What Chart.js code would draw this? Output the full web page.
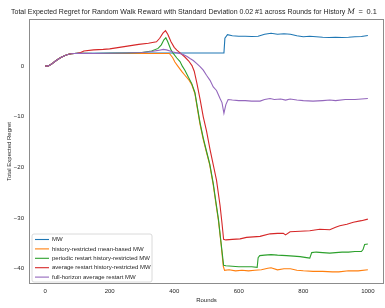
<!DOCTYPE html>
<html>
<head>
<meta charset="utf-8">
<script src="https://cdn.jsdelivr.net/npm/chart.js@4/dist/chart.umd.min.js"></script>
<style>
  html, body { margin: 0; padding: 0; background: #ffffff; overflow: hidden; }
  #wrap { position: relative; width: 385px; height: 308px; }
</style>
</head>
<body>
<div id="wrap"><canvas id="c"></canvas></div>
<script>
const titleMain = "Total Expected Regret for Random Walk Reward with Standard Deviation 0.02 #1 across Rounds for History ";
const titleVar = "M";
const titleRest = " = 0.1";
const xLabel = "Rounds";
const yLabel = "Total Expected Regret";
const xTicks = [0, 200, 400, 600, 800, 1000];
const yTicks = [-40, -30, -20, -10, 0];

const seriesNames = [
  "MW",
  "history-restricted mean-based MW",
  "periodic restart history-restricted MW",
  "average restart history-restricted MW",
  "full-horizon average restart MW"
];
const seriesColors = ["#1f77b4", "#ff7f0e", "#2ca02c", "#d62728", "#9467bd"];

const startRounds = [0, 10, 20, 30, 40, 50, 60, 70, 80, 90, 100];
const startValues = [0, 0.05, 0.4, 0.9, 1.35, 1.75, 2.05, 2.3, 2.45, 2.5, 2.55];

const mwRounds = [200, 300, 400, 500, 554, 557, 565, 580, 600, 620, 640, 660, 680, 700, 720, 740, 760, 780, 800, 820, 840, 860, 880, 900, 920, 940, 960, 980, 1000];
const mwValues = [2.6, 2.6, 2.6, 2.6, 2.6, 5.5, 6.2, 6.0, 5.9, 5.9, 5.85, 5.9, 6.3, 6.5, 6.3, 6.4, 6.3, 6.0, 5.8, 5.9, 5.8, 5.7, 5.65, 5.7, 5.65, 5.7, 5.8, 5.85, 6.05];

const hrRounds = [150, 200, 250, 300, 350, 385, 395, 402, 410, 418, 425, 433, 444, 454, 464, 472, 480, 490, 500, 510, 521, 530, 537, 545, 552, 556, 570, 590, 610, 630, 650, 670, 690, 700, 720, 740, 760, 780, 800, 830, 860, 890, 910, 940, 970, 1000];
const hrValues = [2.5, 2.5, 2.5, 2.5, 2.5, 2.5, 1.7, 0.8, 0.1, -0.6, -1.2, -1.8, -2.6, -3.6, -5.4, -8.5, -11.5, -14.5, -17, -19.5, -23.5, -27.5, -30.5, -35, -39.5, -40.3, -40.2, -40.4, -40.3, -40.4, -40.3, -40.2, -39.9, -39.8, -40.2, -40.0, -40.0, -40.3, -40.4, -40.5, -40.5, -40.6, -40.6, -40.4, -40.4, -40.2];

const prRounds = [150, 200, 250, 300, 330, 350, 360, 368, 374, 380, 390, 397, 408, 418, 425, 433, 444, 454, 464, 472, 480, 490, 500, 510, 521, 530, 537, 545, 553, 560, 580, 600, 620, 640, 657, 660, 665, 680, 700, 720, 748, 770, 790, 810, 820, 826, 840, 860, 882, 900, 920, 940, 960, 980, 985, 990, 1000];
const prValues = [2.5, 2.55, 2.6, 2.7, 3.0, 3.5, 4.2, 5.2, 5.6, 4.8, 3.2, 2.5, 1.6, 0.9, 0.0, -0.8, -2.2, -3.4, -5.2, -8.2, -11.2, -14.2, -16.8, -19.3, -23.2, -27.2, -30.2, -34.8, -39.3, -39.4, -39.5, -39.6, -39.6, -39.6, -39.7, -37.8, -37.4, -37.3, -37.2, -37.3, -37.4, -37.5, -37.6, -37.8, -37.9, -36.8, -36.7, -36.8, -36.9, -36.8, -36.7, -36.7, -36.6, -36.6, -36.2, -35.2, -35.1];

const arRounds = [110, 120, 150, 180, 200, 230, 260, 290, 320, 345, 355, 365, 373, 380, 390, 400, 408, 420, 433, 445, 455, 462, 470, 480, 490, 500, 511, 521, 531, 542, 548, 553, 560, 580, 604, 624, 645, 666, 697, 720, 738, 745, 759, 790, 820, 851, 882, 900, 913, 935, 955, 980, 1000];
const arValues = [2.7, 3.0, 3.2, 3.3, 3.4, 3.7, 4.0, 4.3, 4.5, 4.8, 5.5, 6.5, 7.0, 6.3, 4.8, 3.7, 3.15, 2.5, 1.8, 1.0, 0.1, -1.0, -3.3, -6.5, -10, -12.8, -16.5, -19.5, -22.5, -27.5, -31, -34.2, -34.3, -34.2, -34.1, -33.8, -33.7, -33.6, -33.1, -33.0, -33.0, -33.3, -32.7, -32.6, -32.5, -32.2, -32.3, -31.8, -31.5, -31.2, -30.8, -30.5, -30.2];

const fhRounds = [150, 200, 250, 300, 330, 350, 366, 376, 397, 410, 428, 440, 449, 459, 470, 480, 490, 500, 511, 521, 531, 542, 548, 554, 560, 567, 580, 600, 620, 640, 666, 680, 697, 710, 730, 745, 759, 780, 800, 830, 860, 882, 900, 930, 960, 980, 1000];
const fhValues = [2.5, 2.55, 2.6, 2.7, 2.9, 3.1, 3.3, 3.2, 2.8, 2.6, 2.3, 1.9, 1.5, 1.1, 0.5, -0.1, -0.8, -1.8, -2.8, -4.1, -4.8, -6.4, -7.2, -9.3, -7.6, -6.6, -6.7, -6.8, -6.8, -6.9, -6.9, -6.6, -6.4, -6.6, -6.5, -6.7, -6.5, -6.7, -6.8, -6.9, -6.8, -6.7, -6.8, -6.6, -6.6, -6.5, -6.4];

const seriesRounds = [mwRounds, hrRounds, prRounds, arRounds, fhRounds];
const seriesValues = [mwValues, hrValues, prValues, arValues, fhValues];

function toPoints(rounds, values) {
  const xs = startRounds.concat(rounds);
  const ys = startValues.concat(values);
  return xs.map((x, i) => ({ x: x, y: ys[i] }));
}

const datasets = seriesNames.map((name, i) => ({
  label: name,
  data: toPoints(seriesRounds[i], seriesValues[i]),
  borderColor: seriesColors[i],
  backgroundColor: seriesColors[i],
  borderWidth: 1.1,
  pointRadius: 0,
  tension: 0,
  fill: false,
  order: seriesNames.length - i
}));

const FONT = "'Liberation Sans', Arial, sans-serif";
const TXT = "#262626";

const framePlugin = {
  id: 'frame',
  afterDatasetsDraw(chart) {
    const { ctx, chartArea: a } = chart;
    ctx.save();
    ctx.strokeStyle = "#8c8c8c";
    ctx.lineWidth = 1;
    ctx.strokeRect(a.left + 0.5, a.top + 0.5, a.right - a.left - 1, a.bottom - a.top - 1);
    ctx.restore();
  }
};

const titlePlugin = {
  id: 'freeTitle',
  afterDraw(chart) {
    const { ctx } = chart;
    ctx.save();
    ctx.fillStyle = TXT;
    ctx.textAlign = "left";
    ctx.textBaseline = "middle";
    let x = 11;
    const y = 12;
    ctx.font = "7px " + FONT;
    ctx.fillText(titleMain, x, y);
    x += ctx.measureText(titleMain).width;
    ctx.font = "italic 7.4px 'DejaVu Serif', serif";
    ctx.fillText(titleVar, x, y);
    x += ctx.measureText(titleVar).width;
    ctx.font = "7.4px " + FONT;
    ctx.fillText(titleRest.replace(/ /g, "\u2002"), x, y);
    ctx.restore();
  }
};

const legendPlugin = {
  id: 'boxLegend',
  afterDraw(chart) {
    const { ctx, chartArea: a } = chart;
    const x0 = a.left + 3, y0 = 234, w = 120, h = 48, r = 2;
    ctx.save();
    ctx.beginPath();
    ctx.moveTo(x0 + r, y0);
    ctx.arcTo(x0 + w, y0, x0 + w, y0 + h, r);
    ctx.arcTo(x0 + w, y0 + h, x0, y0 + h, r);
    ctx.arcTo(x0, y0 + h, x0, y0, r);
    ctx.arcTo(x0, y0, x0 + w, y0, r);
    ctx.closePath();
    ctx.fillStyle = "rgba(255,255,255,0.8)";
    ctx.fill();
    ctx.strokeStyle = "#d0d0d0";
    ctx.lineWidth = 0.8;
    ctx.stroke();
    ctx.font = "6px " + FONT;
    ctx.textBaseline = "middle";
    ctx.textAlign = "left";
    chart.data.datasets.forEach((ds, i) => {
      const yy = y0 + 5.5 + i * 9.4;
      ctx.strokeStyle = ds.borderColor;
      ctx.lineWidth = 1.1;
      ctx.beginPath();
      ctx.moveTo(x0 + 3, yy);
      ctx.lineTo(x0 + 17, yy);
      ctx.stroke();
      ctx.fillStyle = TXT;
      ctx.fillText(ds.label, x0 + 20, yy);
    });
    ctx.restore();
  }
};

function fmt(v) { return v < 0 ? "\u2212" + Math.abs(v) : String(v); }

new Chart(document.getElementById('c'), {
  type: 'line',
  data: { datasets: datasets },
  options: {
    responsive: true,
    maintainAspectRatio: false,
    animation: false,
    devicePixelRatio: 1,
    layout: { padding: { left: 0, right: 1, top: 19, bottom: 0 } },
    plugins: { legend: { display: false }, title: { display: false }, tooltip: { enabled: false } },
    scales: {
      x: {
        type: 'linear',
        min: -50, max: 1050,
        afterBuildTicks: (s) => { s.ticks = xTicks.map(v => ({ value: v })); },
        afterFit: (s) => { s.height = 24; },
        grid: { display: false, drawTicks: false },
        border: { display: false },
        ticks: { padding: 4, color: TXT, font: { size: 6, family: FONT }, maxRotation: 0, autoSkip: false, callback: (v) => fmt(v) },
        title: { display: true, text: xLabel, color: TXT, font: { size: 6, family: FONT }, padding: { top: 0, bottom: 4 } }
      },
      y: {
        type: 'linear',
        min: -43, max: 9.3,
        afterBuildTicks: (s) => { s.ticks = yTicks.map(v => ({ value: v })); },
        afterFit: (s) => { s.width = 29; },
        grid: { display: false, drawTicks: false },
        border: { display: false },
        ticks: { padding: 5, color: TXT, font: { size: 6, family: FONT }, autoSkip: false, callback: (v) => fmt(v) },
        title: { display: true, text: yLabel, color: TXT, font: { size: 6, family: FONT }, padding: { top: 6, bottom: 0 } }
      }
    }
  },
  plugins: [framePlugin, titlePlugin, legendPlugin]
});
</script>
</body>
</html>
